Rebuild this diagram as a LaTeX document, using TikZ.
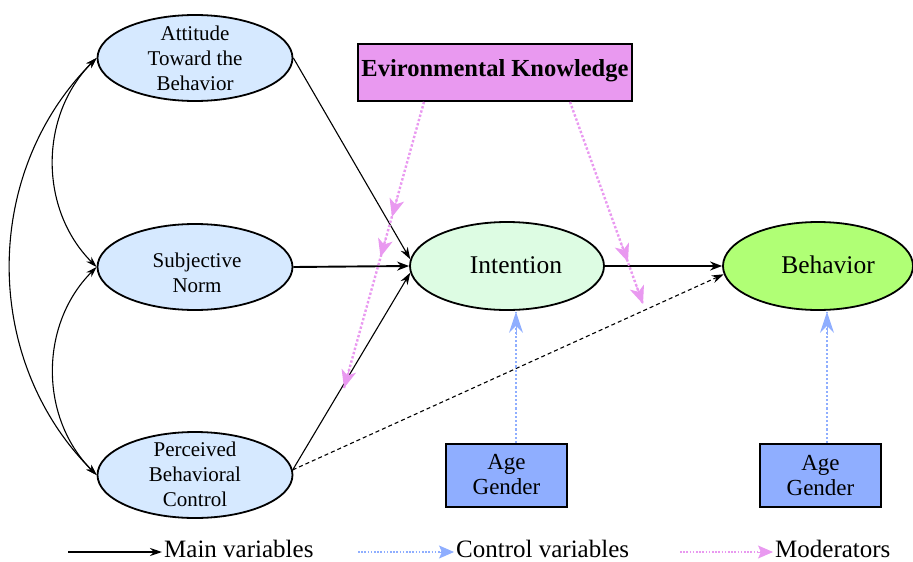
\documentclass[tikz,border=0pt]{standalone}
\usepackage{fontspec}
\setmainfont{Liberation Serif}
\usetikzlibrary{arrows.meta,shapes.geometric,calc}
\definecolor{ellblue}{RGB}{214,233,255}
\definecolor{intgreen}{RGB}{221,252,227}
\definecolor{behgreen}{RGB}{176,255,117}
\definecolor{modpink}{RGB}{233,153,240}
\definecolor{ctlblue}{RGB}{143,174,255}
\begin{document}
\begin{tikzpicture}[x=1pt,y=-1pt,
  ell/.style={draw=black,line width=1.8pt,ellipse,minimum width=195pt,minimum height=86pt,inner sep=0pt},
  smalltxt/.style={font=\fontsize{21}{25}\selectfont,align=center,inner sep=0pt},
  bigtxt/.style={font=\fontsize{25.5}{28}\selectfont,inner sep=0pt},
  agebox/.style={draw=black,line width=1.8pt,fill=ctlblue,minimum width=121pt,minimum height=63pt,inner sep=0pt},
  agetxt/.style={font=\fontsize{23}{25}\selectfont,align=center,inner sep=0pt},
  legtxt/.style={font=\fontsize{25}{28}\selectfont,anchor=base west,inner sep=0pt},
  mainthin/.style={line width=1.1pt,-{Stealth[length=12pt,width=8pt]}},
  mainthick/.style={line width=1.9pt,-{Stealth[length=12pt,width=9pt]}},
  curvs/.style={line width=1.1pt,{Stealth[length=11pt,width=7pt]}-{Stealth[length=11pt,width=7pt]}},
  modline/.style={modpink,line width=2.4pt,dash pattern=on 2.4pt off 2pt},
  ctlline/.style={ctlblue,line width=2.2pt,dash pattern=on 2.2pt off 2pt},
  modtip/.style={modpink,line width=1pt,solid,-{Stealth[length=18pt,width=15pt,inset=5pt]}},
  ctltip/.style={ctlblue,line width=1pt,solid,-{Stealth[length=21pt,width=14pt,inset=7pt]}},
  legmain/.style={line width=2pt,-{Stealth[length=12pt,width=8pt]}},
  legctl/.style={ctlblue,line width=1.6pt,dash pattern=on 1.6pt off 1.6pt},
  legmod/.style={modpink,line width=1.6pt,dash pattern=on 1.6pt off 1.6pt},
  legctltip/.style={ctlblue,line width=1pt,solid,-{Stealth[length=15pt,width=13pt,inset=3pt]}},
  legmodtip/.style={modpink,line width=1pt,solid,-{Stealth[length=15pt,width=13pt,inset=3pt]}}
]
\useasboundingbox (0,0) rectangle (913,562);

% ellipses
\node[ell,fill=ellblue] (att) at (195,58) {};
\node[smalltxt] (att-t) at (195,58) {Attitude\\Toward the\\Behavior};
\node[ell,fill=ellblue] (sn) at (195,267) {};
\node[smalltxt] (sn-t) at (197,273) {Subjective\\Norm};
\node[ell,fill=ellblue] (pbc) at (195,475) {};
\node[smalltxt] (pbc-t) at (195,474) {Perceived\\Behavioral\\Control};
\node[ell,fill=intgreen,minimum width=194pt,minimum height=88pt] (int) at (507,266) {};
\node[bigtxt] (int-t) at (516,265) {Intention};
\node[ell,fill=behgreen,minimum width=190pt,minimum height=88pt] (beh) at (818,266) {};
\node[bigtxt] (beh-t) at (828,265) {Behavior};

% boxes
\node[draw=black,line width=1.8pt,fill=modpink,minimum width=274pt,minimum height=57pt,inner sep=0pt] (ek) at (495,72.5) {};
\node[font=\fontsize{24.5}{27}\selectfont\bfseries,inner sep=0pt] (ek-t) at (495,71) {Evironmental Knowledge};
\node[agebox] (age1) at (506.5,475.5) {};
\node[agetxt] (age1-t) at (506.5,475) {Age\\Gender};
\node[agebox] (age2) at (820.5,475.5) {};
\node[agetxt] (age2-t) at (820.5,476) {Age\\Gender};

% main paths
\draw[mainthin] (att.east) -- (int.176);
\draw[mainthick] (sn.east) -- (int.west);
\draw[mainthin] (pbc.3) -- (int.184);
\draw[mainthick] (int.east) -- (beh.west);
\draw[line width=1.1pt,dash pattern=on 4pt off 3pt,-{Stealth[length=12pt,width=8pt]}] (pbc.3) -- (beh.185);

% correlations
\draw[curvs] (att.west) to[out=225,in=135] (sn.west);
\draw[curvs] (sn.west) to[out=225,in=135] (pbc.west);
\draw[curvs] (att.west) to[out=225,in=135] (pbc.west);

% moderators
\coordinate (m1a) at ($(ek.south)+(-71,0)$);
\coordinate (m1b) at (392,217);
\coordinate (m1c) at (380.5,257);
\coordinate (m1d) at (344,388);
\draw[modline] (m1a) -- (m1d);
\draw[modtip] ($(m1b)!20pt!(m1a)$) -- (m1b);
\draw[modtip] ($(m1c)!20pt!(m1a)$) -- (m1c);
\draw[modtip] ($(m1d)!20pt!(m1a)$) -- (m1d);
\coordinate (m2a) at ($(ek.south)+(75,0)$);
\coordinate (m2b) at (628,262);
\coordinate (m2c) at (643,304);
\draw[modline] (m2a) -- (m2c);
\draw[modtip] ($(m2b)!20pt!(m2a)$) -- (m2b);
\draw[modtip] ($(m2c)!20pt!(m2a)$) -- (m2c);

% controls
\coordinate (c1a) at ($(age1.north)+(9.5,0)$);
\coordinate (c1b) at ($(int.south)+(9,1)$);
\draw[ctlline] (c1a) -- (c1b);
\draw[ctltip] ($(c1b)!23pt!(c1a)$) -- (c1b);
\coordinate (c2a) at ($(age2.north)+(6.5,0)$);
\coordinate (c2b) at ($(beh.south)+(9,1)$);
\draw[ctlline] (c2a) -- (c2b);
\draw[ctltip] ($(c2b)!23pt!(c2a)$) -- (c2b);

% legend
\coordinate (l1a) at (68,552);
\coordinate (l1b) at (162,552);
\draw[legmain] (l1a) -- (l1b);
\node[legtxt] (l1t) at (164,557) {Main variables};
\coordinate (l2a) at (358,552);
\coordinate (l2b) at (454,552);
\draw[legctl] (l2a) -- ($(l2b)+(-12,0)$);
\draw[legctltip] ($(l2b)+(-16,0)$) -- (l2b);
\node[legtxt] (l2t) at (456,557) {Control variables};
\coordinate (l3a) at (680,552);
\coordinate (l3b) at (773,552);
\draw[legmod] (l3a) -- ($(l3b)+(-12,0)$);
\draw[legmodtip] ($(l3b)+(-16,0)$) -- (l3b);
\node[legtxt] (l3t) at (775,557) {Moderators};
\end{tikzpicture}
\end{document}
